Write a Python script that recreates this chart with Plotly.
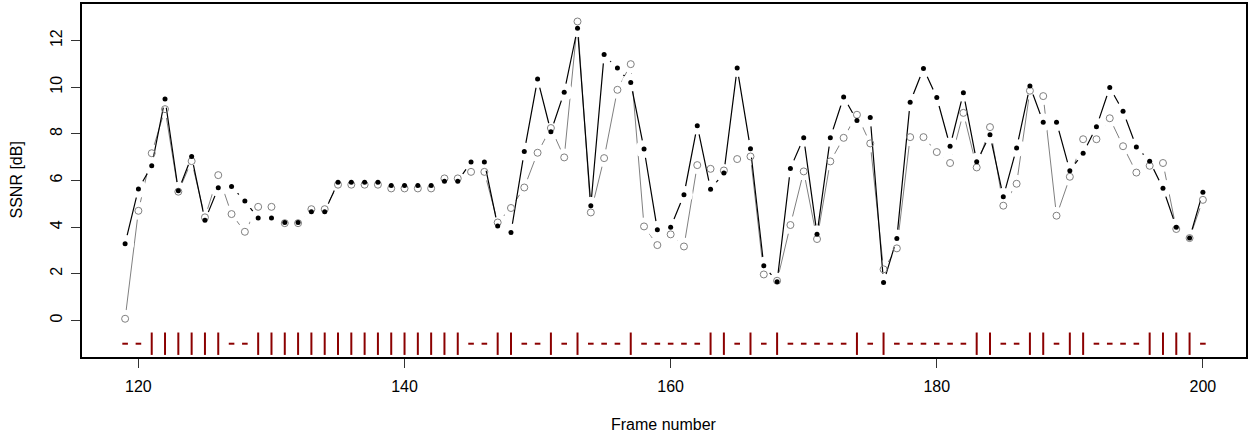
import plotly.graph_objects as go

frames = list(range(119, 201))

ssnr_black = [3.29, 5.64, 6.63, 9.50, 5.56, 7.03, 4.29, 5.69, 5.74, 5.12,
              4.39, 4.39, 4.20, 4.20, 4.66, 4.66, 5.92, 5.92, 5.92, 5.92,
              5.79, 5.79, 5.79, 5.79, 5.97, 5.97, 6.79, 6.79, 4.05, 3.77,
              7.24, 10.35, 8.09, 9.79, 12.53, 4.92, 11.40, 10.82, 10.20, 7.35,
              3.89, 4.00, 5.39, 8.35, 5.63, 6.32, 10.82, 7.36, 2.34, 1.66,
              6.52, 7.83, 3.70, 7.83, 9.58, 8.57, 8.70, 1.63, 3.51, 9.36,
              10.80, 9.56, 7.47, 9.76, 6.80, 7.96, 5.30, 7.39, 10.05, 8.50,
              8.50, 6.42, 7.17, 8.30, 9.99, 8.97, 7.44, 6.83, 5.67, 4.00,
              3.53, 5.50]

ssnr_gray = [0.07, 4.70, 7.17, 9.06, 5.52, 6.83, 4.42, 6.23, 4.56, 3.80,
             4.87, 4.87, 4.17, 4.17, 4.77, 4.77, 5.82, 5.82, 5.82, 5.82,
             5.66, 5.66, 5.66, 5.66, 6.09, 6.09, 6.37, 6.37, 4.20, 4.82,
             5.70, 7.19, 8.25, 6.99, 12.82, 4.63, 6.96, 9.89, 10.99, 4.03,
             3.23, 3.69, 3.17, 6.66, 6.50, 6.43, 6.92, 7.03, 1.97, 1.70,
             4.09, 6.39, 3.49, 6.82, 7.83, 8.82, 7.59, 2.19, 3.09, 7.86,
             7.86, 7.22, 6.75, 8.90, 6.56, 8.29, 4.92, 5.86, 9.85, 9.62,
             4.49, 6.16, 7.77, 7.77, 8.67, 7.47, 6.34, 6.63, 6.75, 3.92,
             3.53, 5.17]

unvoiced_frames = [119, 120, 127, 128, 145, 146, 149, 150, 152, 154, 155, 156,
                   158, 159, 160, 161, 162, 165, 167, 169, 170, 171, 172, 173,
                   175, 177, 178, 179, 180, 181, 182, 185, 186, 189, 192, 193,
                   194, 195, 200]
voiced_frames = [f for f in frames if f not in unvoiced_frames]
marker_level = -1

x_ticks = [120, 140, 160, 180, 200]
y_ticks = [0, 2, 4, 6, 8, 10, 12]

GRAY = "#808080"
DARKRED = "#8B0000"
GAP = 18

fig = go.Figure()
# gray series line + gap mask
fig.add_trace(go.Scatter(x=frames, y=ssnr_gray, mode="lines",
                         line=dict(color=GRAY, width=1), hoverinfo="skip"))
fig.add_trace(go.Scatter(x=frames, y=ssnr_gray, mode="markers",
                         marker=dict(symbol="circle", size=GAP, color="white"),
                         hoverinfo="skip"))
# black series line + gap mask
fig.add_trace(go.Scatter(x=frames, y=ssnr_black, mode="lines",
                         line=dict(color="black", width=1.2), hoverinfo="skip"))
fig.add_trace(go.Scatter(x=frames, y=ssnr_black, mode="markers",
                         marker=dict(symbol="circle", size=GAP, color="white"),
                         hoverinfo="skip"))
# markers
fig.add_trace(go.Scatter(x=frames, y=ssnr_gray, mode="markers",
                         marker=dict(symbol="circle-open", size=7,
                                     color=GRAY, line=dict(width=1, color=GRAY))))
fig.add_trace(go.Scatter(x=frames, y=ssnr_black, mode="markers",
                         marker=dict(symbol="circle", size=5, color="black")))
# voicing marks
fig.add_trace(go.Scatter(x=voiced_frames, y=[marker_level] * len(voiced_frames),
                         mode="markers",
                         marker=dict(symbol="line-ns", size=16,
                                     line=dict(width=2, color=DARKRED))))
fig.add_trace(go.Scatter(x=unvoiced_frames, y=[marker_level] * len(unvoiced_frames),
                         mode="markers",
                         marker=dict(symbol="line-ew", size=4,
                                     line=dict(width=2, color=DARKRED))))

font = dict(family="Liberation Sans, Arial, sans-serif", size=16, color="black")

fig.update_layout(
    width=1250, height=434,
    margin=dict(l=82, r=2, t=4, b=77),
    paper_bgcolor="white", plot_bgcolor="white",
    showlegend=False,
    font=font,
    xaxis=dict(range=[115.76, 203.24], tickvals=x_ticks, ticks="outside",
               ticklen=9, tickwidth=1, tickcolor="#333",
               showgrid=False, zeroline=False, showline=True, linecolor="black",
               linewidth=1.5, mirror=True, ticklabelstandoff=5,
               tickfont=font),
    yaxis=dict(range=[-1.57, 13.57], tickvals=y_ticks, ticks="outside",
               ticklen=9, tickwidth=1, tickcolor="#333", tickangle=-90,
               showgrid=False, zeroline=False, showline=True, linecolor="black",
               linewidth=1.5, mirror=True, ticklabelstandoff=3,
               tickfont=font),
    annotations=[
        dict(text="Frame number", xref="paper", yref="paper", x=0.5, y=0,
             xanchor="center", yanchor="middle", yshift=-67, showarrow=False,
             font=font),
        dict(text="SSNR [dB]", xref="paper", yref="paper", x=0, y=0.5,
             xanchor="center", yanchor="middle", xshift=-66, textangle=-90,
             showarrow=False, font=font),
    ],
)

fig.write_html("out.html")
